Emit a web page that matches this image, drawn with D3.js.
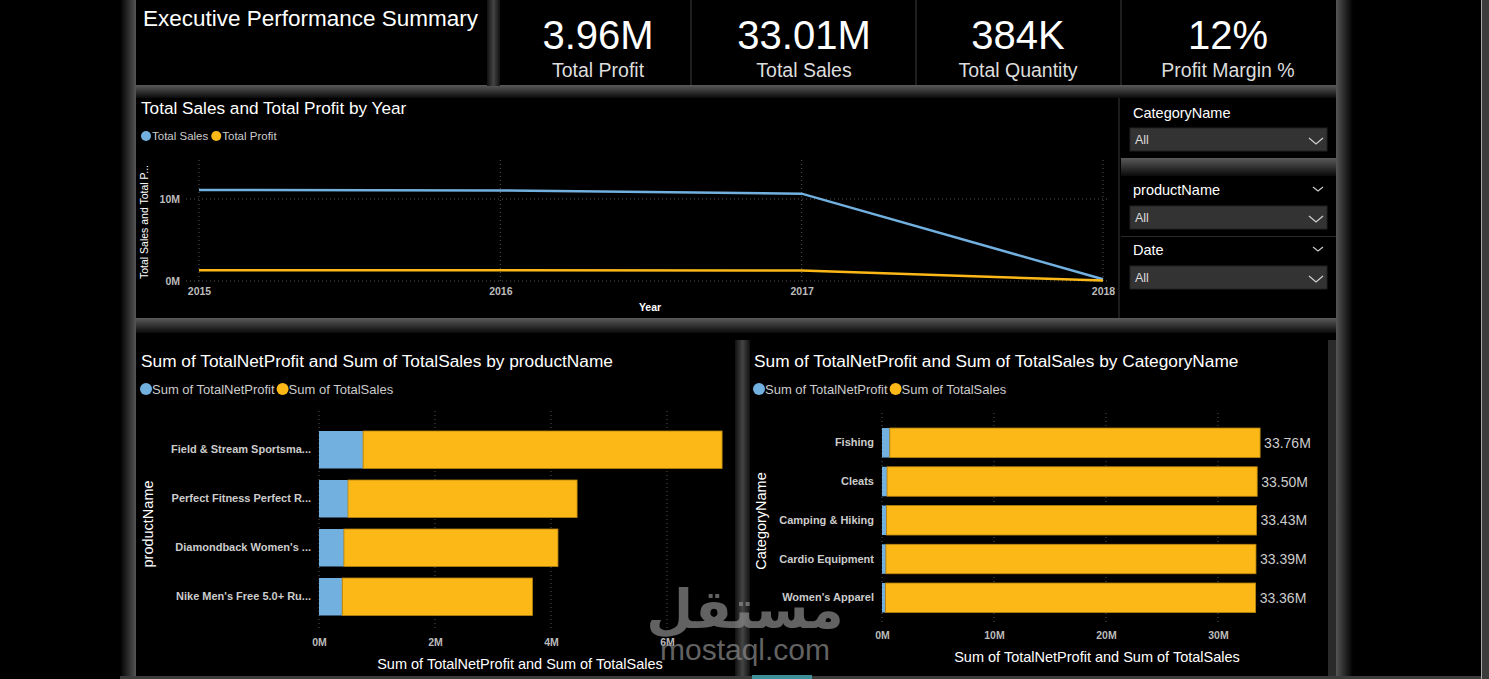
<!DOCTYPE html>
<html>
<head>
<meta charset="utf-8">
<script src="https://cdn.jsdelivr.net/npm/d3@7"></script>
<style>
  body { margin: 0; background: #000; overflow: hidden; }
  svg { display: block; font-family: "Liberation Sans", Arial, sans-serif; }
</style>
</head>
<body>
<svg id="dash" width="1489" height="679"></svg>
<script>
// kpi cards
var kpiValues = ['3.96M', '33.01M', '384K', '12%']
var kpiLabels = ['Total Profit', 'Total Sales', 'Total Quantity', 'Profit Margin %']

// line chart by year
var years = ['2015', '2016', '2017', '2018']
var yearSales = [11.1e6, 11.05e6, 10.65e6, 0.21e6]
var yearProfit = [1.31e6, 1.31e6, 1.29e6, 0.05e6]
var yearTicks = [0, 10e6]

// bars by product
var products = ['Field & Stream Sportsma...', 'Perfect Fitness Perfect R...', "Diamondback Women's ...", "Nike Men's Free 5.0+ Ru..."]
var productProfit = [0.76e6, 0.50e6, 0.43e6, 0.40e6]
var productSales = [6.19e6, 3.95e6, 3.69e6, 3.28e6]
var productTicks = [0, 2e6, 4e6, 6e6]

// bars by category
var categories = ['Fishing', 'Cleats', 'Camping & Hiking', 'Cardio Equipment', "Women's Apparel"]
var categoryProfit = [0.70e6, 0.45e6, 0.40e6, 0.35e6, 0.30e6]
var categorySales = [33.06e6, 33.05e6, 33.03e6, 33.04e6, 33.06e6]
var categoryLabels = ['33.76M', '33.50M', '33.43M', '33.39M', '33.36M']
var categoryTicks = [0, 10e6, 20e6, 30e6]

// slicers
var slicerNames = ['CategoryName', 'productName', 'Date']

var BLUE = '#72b0e0'
var ORANGE = '#fcb817'
var fmtM = v => (v / 1e6) + 'M'

var svg = d3.select('#dash')
var defs = svg.append('defs')

function grad(id, x2, y2, stops) {
    var g = defs.append('linearGradient').attr('id', id)
        .attr('x1', 0).attr('y1', 0).attr('x2', x2).attr('y2', y2)
    stops.forEach(s => g.append('stop').attr('offset', s[0]).attr('stop-color', s[1]))
}
grad('gLeft', 1, 0, [[0, '#000'], [0.7, '#3a3a3a'], [1, '#555']])
grad('gRight', 1, 0, [[0, '#555'], [0.3, '#3a3a3a'], [1, '#000']])
grad('gDown', 0, 1, [[0, '#5a5a5a'], [0.4, '#3a3a3a'], [1, '#0a0a0a']])
grad('gGap', 1, 0, [[0, '#111'], [0.5, '#444'], [1, '#111']])

svg.append('rect').attr('width', 1489).attr('height', 679).attr('fill', '#000')

// frame / shadows
svg.append('rect').attr('x', 120).attr('y', 0).attr('width', 16).attr('height', 679).attr('fill', 'url(#gLeft)')
svg.append('rect').attr('x', 1336).attr('y', 0).attr('width', 17).attr('height', 679).attr('fill', 'url(#gRight)')
svg.append('rect').attr('x', 136).attr('y', 85).attr('width', 1200).attr('height', 13).attr('fill', 'url(#gDown)')
svg.append('rect').attr('x', 487).attr('y', 0).attr('width', 13).attr('height', 86).attr('fill', 'url(#gGap)')
svg.append('rect').attr('x', 136).attr('y', 318).attr('width', 1200).attr('height', 15).attr('fill', 'url(#gDown)')
svg.append('rect').attr('x', 1121).attr('y', 158).attr('width', 215).attr('height', 18).attr('fill', 'url(#gDown)')
svg.append('rect').attr('x', 735).attr('y', 340).attr('width', 15).attr('height', 339).attr('fill', 'url(#gGap)')
svg.append('rect').attr('x', 1328).attr('y', 340).attr('width', 8).attr('height', 339).attr('fill', '#2a2a2a')
svg.append('rect').attr('x', 120).attr('y', 676).attr('width', 1369).attr('height', 3).attr('fill', '#3c3c3c')
svg.append('rect').attr('x', 752).attr('y', 675).attr('width', 60).attr('height', 4).attr('fill', '#3f8f99')
svg.append('rect').attr('x', 1481).attr('y', 0).attr('width', 1).attr('height', 679).attr('fill', '#aaa')
svg.append('rect').attr('x', 1482).attr('y', 0).attr('width', 7).attr('height', 679).attr('fill', '#3c3c3c')
svg.append('rect').attr('x', 1118).attr('y', 98).attr('width', 2).attr('height', 220).attr('fill', '#1c1c1c')
svg.append('rect').attr('x', 1121).attr('y', 236).attr('width', 215).attr('height', 1).attr('fill', '#2a2a2a')

// header
svg.append('text').attr('x', 143).attr('y', 26).attr('fill', '#fff')
    .style('font-size', '22.5px').text('Executive Performance Summary')

var kpiCenters = [598, 804, 1018, 1228]
;[690, 915, 1120].forEach(x => svg.append('rect').attr('x', x).attr('y', 0).attr('width', 2).attr('height', 85).attr('fill', '#1e1e1e'))
kpiLabels.forEach((lab, i) => {
    svg.append('text').attr('x', kpiCenters[i]).attr('y', 49).attr('text-anchor', 'middle')
        .attr('fill', '#fff').style('font-size', '40px').text(kpiValues[i])
    svg.append('text').attr('x', kpiCenters[i]).attr('y', 77).attr('text-anchor', 'middle')
        .attr('fill', '#ddd').style('font-size', '19.5px').text(lab)
})

function legend(x, y, items, size) {
    var cx = x
    items.forEach(it => {
        svg.append('circle').attr('cx', cx + 5).attr('cy', y).attr('r', size < 12 ? 5 : 6).attr('fill', it[1])
        var t = svg.append('text').attr('x', cx + 11).attr('y', y + size * 0.36).attr('fill', '#ccc')
            .style('font-size', size + 'px').text(it[0])
        cx += 11 + t.node().getComputedTextLength() + 3
    })
}

function dottedGrid(g) {
    g.selectAll('line').attr('stroke', '#555').attr('stroke-dasharray', '1,3')
}

// line chart
svg.append('text').attr('x', 141).attr('y', 114).attr('fill', '#fff')
    .style('font-size', '17.2px').text('Total Sales and Total Profit by Year')
legend(141, 136, [['Total Sales', BLUE], ['Total Profit', ORANGE]], 11.5)

var lx = d3.scalePoint().domain(years).range([199, 1103])
var ly = d3.scaleLinear().domain([0, 10e6]).range([281, 199])

var vGrid = svg.append('g')
years.forEach(y => vGrid.append('line').attr('x1', lx(y)).attr('x2', lx(y)).attr('y1', 160).attr('y2', 281))
yearTicks.forEach(t => vGrid.append('line').attr('x1', 186).attr('x2', 1110).attr('y1', ly(t)).attr('y2', ly(t)))
dottedGrid(vGrid)

var xAxisL = svg.append('g').attr('transform', 'translate(0,283)')
    .call(d3.axisBottom(lx).tickSize(0).tickPadding(5))
var yAxisL = svg.append('g').attr('transform', 'translate(182,0)')
    .call(d3.axisLeft(ly).tickValues(yearTicks).tickFormat(fmtM).tickSize(0).tickPadding(2))
;[xAxisL, yAxisL].forEach(a => {
    a.select('.domain').remove()
    a.selectAll('text').attr('fill', '#bbb').style('font-size', '10.5px').style('font-weight', 'bold')
        .style('font-family', '"Liberation Sans", Arial, sans-serif')
})
svg.append('text').attr('x', 650).attr('y', 311).attr('text-anchor', 'middle').attr('fill', '#fff')
    .style('font-size', '10.5px').style('font-weight', 'bold').text('Year')
svg.append('text').attr('transform', 'translate(148,222) rotate(-90)').attr('text-anchor', 'middle')
    .attr('fill', '#fff').style('font-size', '10.5px').text('Total Sales and Total P...')

var line = d3.line().x((d, i) => lx(years[i])).y(d => ly(d))
svg.append('path').attr('d', line(yearSales)).attr('fill', 'none').attr('stroke', BLUE).attr('stroke-width', 2.5)
svg.append('path').attr('d', line(yearProfit)).attr('fill', 'none').attr('stroke', ORANGE).attr('stroke-width', 2.5)

// slicers
var slicerY = [113, 190, 250]
var boxY = [128, 206, 266]
slicerNames.forEach((name, i) => {
    svg.append('text').attr('x', 1133).attr('y', slicerY[i] + 5).attr('fill', '#fff').style('font-size', '14.5px').text(name)
    if (i > 0) {
        svg.append('path').attr('d', `M1313,${slicerY[i] - 3} l5,4 l5,-4`).attr('fill', 'none').attr('stroke', '#ccc').attr('stroke-width', 1.2)
    }
    svg.append('rect').attr('x', 1130).attr('y', boxY[i]).attr('width', 197).attr('height', 23)
        .attr('fill', '#333').attr('stroke', '#222')
    svg.append('text').attr('x', 1135).attr('y', boxY[i] + 16).attr('fill', '#ddd').style('font-size', '12.5px').text('All')
    svg.append('path').attr('d', `M1309,${boxY[i] + 10} l7,6 l7,-6`).attr('fill', 'none').attr('stroke', '#ccc').attr('stroke-width', 1.3)
})

// stacked bar chart helper
function barChart(opt) {
    svg.append('text').attr('x', opt.left).attr('y', 367).attr('fill', '#fff')
        .style('font-size', '17.3px').text(opt.title)
    legend(opt.left, 389, [['Sum of TotalNetProfit', BLUE], ['Sum of TotalSales', ORANGE]], 13)

    var x = d3.scaleLinear().domain(opt.xDomain).range(opt.xRange)
    var y = d3.scaleBand().domain(opt.cats).range(opt.yRange).paddingInner(opt.pad).paddingOuter(opt.pad / 2)

    var grid = svg.append('g')
    opt.ticks.forEach(t => grid.append('line').attr('x1', x(t)).attr('x2', x(t)).attr('y1', opt.gridTop).attr('y2', opt.gridBottom))
    dottedGrid(grid)

    var ax = svg.append('g').attr('transform', `translate(0,${opt.gridBottom + 6})`)
        .call(d3.axisBottom(x).tickValues(opt.ticks).tickFormat(fmtM).tickSize(0).tickPadding(4))
    var ay = svg.append('g').attr('transform', `translate(${opt.xRange[0] - 8},0)`)
        .call(d3.axisLeft(y).tickSize(0).tickPadding(0))
    ;[ax, ay].forEach(a => {
        a.select('.domain').remove()
        a.selectAll('text').attr('fill', a === ax ? '#bbb' : '#ccc').style('font-size', a === ax ? '10.5px' : '11px')
            .style('font-weight', 'bold').style('font-family', '"Liberation Sans", Arial, sans-serif')
    })

    var rows = svg.append('g').selectAll('g').data(opt.cats).enter().append('g')
    rows.append('rect').attr('x', x(0)).attr('y', d => y(d)).attr('height', y.bandwidth())
        .attr('width', (d, i) => x(opt.profit[i]) - x(0)).attr('fill', BLUE)
    rows.append('rect').attr('x', (d, i) => x(opt.profit[i])).attr('y', d => y(d)).attr('height', y.bandwidth())
        .attr('width', (d, i) => x(opt.profit[i] + opt.sales[i]) - x(opt.profit[i]))
        .attr('fill', ORANGE).attr('stroke', '#b88410').attr('stroke-width', 0.8)
    if (opt.labels) {
        rows.append('text').attr('x', (d, i) => x(opt.profit[i] + opt.sales[i]) + 4)
            .attr('y', d => y(d) + y.bandwidth() / 2 + 5).attr('fill', '#ccc').style('font-size', '14px')
            .text((d, i) => opt.labels[i])
    }

    svg.append('text').attr('x', opt.xTitleX).attr('y', opt.gridBottom + 40).attr('text-anchor', 'middle')
        .attr('fill', '#fff').style('font-size', '14.5px').text('Sum of TotalNetProfit and Sum of TotalSales')
    svg.append('text').attr('transform', `translate(${opt.left + 12},${opt.yTitleY}) rotate(-90)`).attr('text-anchor', 'middle')
        .attr('fill', '#fff').style('font-size', '14.5px').text(opt.yTitle)
}

barChart({
    title: 'Sum of TotalNetProfit and Sum of TotalSales by productName',
    left: 141, cats: products, profit: productProfit, sales: productSales,
    xDomain: [0, 6e6], xRange: [319, 667], ticks: productTicks,
    yRange: [425.25, 621.25], pad: 0.235, gridTop: 411, gridBottom: 629,
    xTitleX: 520, yTitle: 'productName', yTitleY: 524
})
barChart({
    title: 'Sum of TotalNetProfit and Sum of TotalSales by CategoryName',
    left: 754, cats: categories, profit: categoryProfit, sales: categorySales, labels: categoryLabels,
    xDomain: [0, 30e6], xRange: [882, 1218], ticks: categoryTicks,
    yRange: [423.4, 617.15], pad: 0.239, gridTop: 413, gridBottom: 622,
    xTitleX: 1097, yTitle: 'CategoryName', yTitleY: 521
})

// watermark
svg.append('text').attr('x', 745).attr('y', 628).attr('text-anchor', 'middle').attr('fill', '#8c8c8c').attr('opacity', 0.7)
    .style('font-family', '"DejaVu Sans", sans-serif').style('font-size', '54px').style('font-weight', 'bold').text('مستقل')
svg.append('text').attr('x', 745).attr('y', 660).attr('text-anchor', 'middle').attr('fill', '#8c8c8c').attr('opacity', 0.7)
    .style('font-size', '30px').text('mostaql.com')
</script>
</body>
</html>
